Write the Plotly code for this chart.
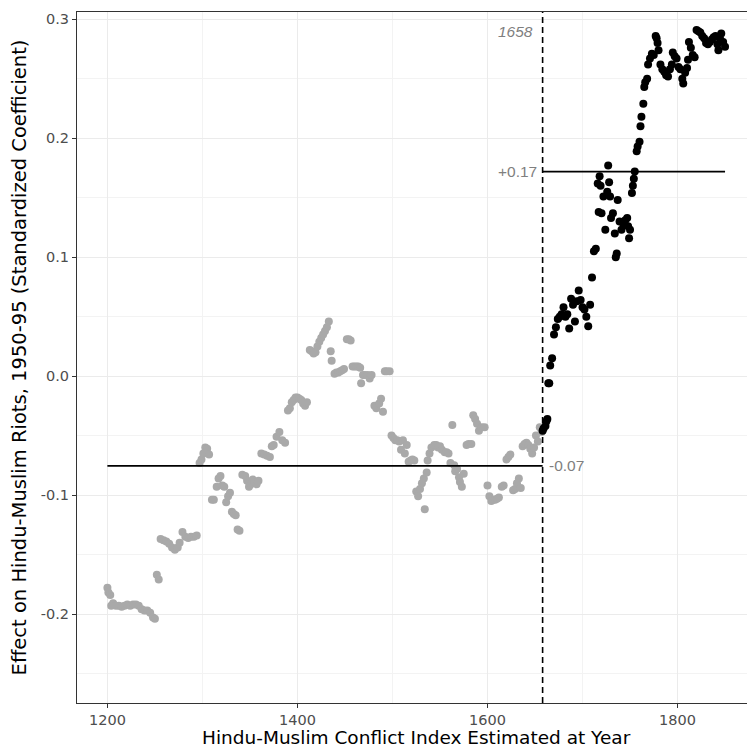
import plotly.graph_objects as go

# ---- data ----
years_before = [1200, 1201, 1203, 1204, 1206, 1209, 1212, 1215, 1218, 1221, 1224, 1227, 1230, 1233, 1236, 1239,
                1242, 1245, 1248, 1250, 1252, 1254, 1256, 1259, 1262, 1265, 1268, 1271, 1274, 1276, 1279, 1282,
                1285, 1288, 1291, 1294, 1297, 1299, 1301, 1303, 1305, 1307, 1310, 1312, 1315, 1317, 1319, 1321,
                1323, 1325, 1327, 1329, 1331, 1333, 1335, 1337, 1339, 1342, 1345, 1347, 1349, 1351, 1353, 1355,
                1357, 1359, 1362, 1365, 1368, 1371, 1373, 1375, 1378, 1381, 1384, 1387, 1390, 1392, 1394, 1396,
                1398, 1400, 1402, 1404, 1406, 1408, 1410, 1413, 1415, 1417, 1419, 1421, 1423, 1425, 1427, 1429,
                1431, 1433, 1435, 1436, 1439, 1441, 1443, 1445, 1447, 1449, 1452, 1454, 1456, 1458, 1460, 1462,
                1464, 1466, 1467, 1469, 1471, 1474, 1476, 1478, 1481, 1483, 1486, 1488, 1490, 1492, 1494, 1497,
                1499, 1501, 1503, 1505, 1507, 1509, 1511, 1513, 1515, 1517, 1519, 1521, 1523, 1525, 1527, 1529,
                1531, 1533, 1534, 1536, 1537, 1539, 1541, 1544, 1546, 1548, 1550, 1552, 1555, 1557, 1559, 1561,
                1563, 1565, 1566, 1568, 1570, 1571, 1573, 1575, 1578, 1580, 1583, 1585, 1587, 1589, 1591, 1594,
                1597, 1600, 1602, 1604, 1606, 1608, 1610, 1612, 1615, 1617, 1620, 1622, 1624, 1627, 1629, 1631,
                1633, 1635, 1637, 1639, 1641, 1643, 1645, 1647, 1649, 1651, 1653, 1655, 1657]
effect_before = [-0.178, -0.182, -0.184, -0.193, -0.191, -0.193, -0.193, -0.194, -0.193, -0.192, -0.193, -0.192,
                 -0.192, -0.193, -0.196, -0.197, -0.197, -0.199, -0.203, -0.204, -0.167, -0.171, -0.137, -0.138,
                 -0.139, -0.141, -0.144, -0.146, -0.144, -0.140, -0.131, -0.135, -0.136, -0.135, -0.135, -0.134,
                 -0.073, -0.070, -0.065, -0.060, -0.061, -0.066, -0.104, -0.104, -0.093, -0.086, -0.084, -0.092,
                 -0.093, -0.106, -0.101, -0.098, -0.114, -0.116, -0.117, -0.129, -0.130, -0.083, -0.084, -0.088,
                 -0.093, -0.091, -0.087, -0.089, -0.091, -0.088, -0.065, -0.066, -0.067, -0.068, -0.059, -0.058,
                 -0.051, -0.047, -0.054, -0.056, -0.029, -0.027, -0.022, -0.020, -0.018, -0.018, -0.019, -0.020,
                 -0.023, -0.025, -0.022, 0.022, 0.021, 0.019, 0.020, 0.025, 0.029, 0.032, 0.035, 0.038,
                 0.041, 0.046, 0.021, 0.013, 0.002, 0.003, 0.003, 0.004, 0.005, 0.006, 0.031, 0.031,
                 0.030, 0.008, 0.008, 0.008, 0.008, 0.007, -0.006, 0.001, 0.001, 0.001, -0.002, 0.001,
                 -0.025, -0.027, -0.023, -0.019, -0.030, 0.004, 0.004, 0.004, -0.050, -0.052, -0.054, -0.054,
                 -0.055, -0.062, -0.054, -0.065, -0.058, -0.072, -0.071, -0.070, -0.071, -0.097, -0.101, -0.095,
                 -0.090, -0.086, -0.112, -0.081, -0.071, -0.065, -0.060, -0.058, -0.058, -0.060, -0.059, -0.062,
                 -0.064, -0.064, -0.065, -0.073, -0.041, -0.075, -0.080, -0.078, -0.085, -0.089, -0.093, -0.082,
                 -0.058, -0.057, -0.057, -0.033, -0.036, -0.040, -0.046, -0.043, -0.043, -0.092, -0.101, -0.105,
                 -0.104, -0.104, -0.103, -0.102, -0.093, -0.092, -0.070, -0.068, -0.066, -0.096, -0.095, -0.090,
                 -0.086, -0.094, -0.059, -0.057, -0.056, -0.058, -0.061, -0.065, -0.060, -0.050, -0.055, -0.043,
                 -0.047]

years_after = [1658, 1659, 1661, 1662, 1663, 1664, 1665, 1666, 1668, 1670, 1672, 1674, 1676, 1678, 1680, 1682,
               1684, 1686, 1688, 1690, 1692, 1694, 1696, 1698, 1700, 1702, 1704, 1706, 1708, 1710, 1712, 1714,
               1716, 1717, 1718, 1719, 1720, 1722, 1724, 1726, 1727, 1728, 1729, 1730, 1732, 1734, 1735, 1736,
               1737, 1739, 1741, 1743, 1745, 1747, 1748, 1749, 1750, 1752, 1753, 1754, 1755, 1757, 1758, 1760,
               1761, 1762, 1764, 1765, 1766, 1768, 1769, 1771, 1773, 1775, 1777, 1778, 1779, 1780, 1782, 1784,
               1786, 1788, 1790, 1792, 1794, 1795, 1797, 1799, 1801, 1803, 1805, 1806, 1808, 1810, 1811, 1812,
               1814, 1816, 1818, 1820, 1822, 1824, 1826, 1828, 1830, 1832, 1834, 1836, 1838, 1840, 1842, 1843,
               1845, 1846, 1848, 1850]
effect_after = [-0.046, -0.044, -0.042, -0.038, -0.036, -0.006, -0.006, 0.009, 0.015, 0.035, 0.041, 0.048,
                0.050, 0.052, 0.058, 0.050, 0.052, 0.040, 0.065, 0.060, 0.046, 0.063, 0.072, 0.064,
                0.058, 0.056, 0.050, 0.042, 0.060, 0.083, 0.105, 0.107, 0.162, 0.138, 0.168, 0.160,
                0.137, 0.151, 0.123, 0.155, 0.177, 0.163, 0.151, 0.133, 0.137, 0.120, 0.100, 0.103,
                0.148, 0.130, 0.123, 0.128, 0.131, 0.133, 0.126, 0.116, 0.123, 0.154, 0.160, 0.166,
                0.172, 0.189, 0.193, 0.197, 0.210, 0.218, 0.229, 0.243, 0.247, 0.250, 0.262, 0.267,
                0.271, 0.270, 0.286, 0.284, 0.280, 0.274, 0.262, 0.258, 0.256, 0.253, 0.252, 0.258,
                0.262, 0.272, 0.269, 0.267, 0.260, 0.258, 0.250, 0.246, 0.255, 0.259, 0.266, 0.281,
                0.276, 0.270, 0.268, 0.291, 0.290, 0.289, 0.286, 0.284, 0.280, 0.279, 0.281, 0.283,
                0.285, 0.286, 0.279, 0.274, 0.283, 0.288, 0.281, 0.277]

cutoff_year = 1658
mean_before = -0.0755
mean_after = 0.172
mean_before_label = "-0.07"
mean_after_label = "+0.17"
start_year = 1200
end_year = 1850

x_ticks = [1200, 1400, 1600, 1800]
x_minor = [1300, 1500, 1700]
y_ticks = [-0.2, -0.1, 0.0, 0.1, 0.2, 0.3]
y_tick_labels = ["-0.2", "-0.1", "0.0", "0.1", "0.2", "0.3"]
y_minor = [-0.25, -0.15, -0.05, 0.05, 0.15, 0.25]

x_title = "Hindu-Muslim Conflict Index Estimated at Year"
y_title = "Effect on Hindu-Muslim Riots, 1950-95 (Standardized Coefficient)"

fig = go.Figure()

fig.add_trace(go.Scatter(x=years_before, y=effect_before, mode="markers",
                         marker=dict(color="#A9A9A9", size=8, line=dict(width=0)),
                         showlegend=False, hoverinfo="skip"))
fig.add_trace(go.Scatter(x=years_after, y=effect_after, mode="markers",
                         marker=dict(color="#000000", size=8, line=dict(width=0)),
                         showlegend=False, hoverinfo="skip"))

# mean lines
fig.add_trace(go.Scatter(x=[start_year, cutoff_year], y=[mean_before, mean_before], mode="lines",
                         line=dict(color="black", width=1.8), showlegend=False, hoverinfo="skip"))
fig.add_trace(go.Scatter(x=[cutoff_year, end_year], y=[mean_after, mean_after], mode="lines",
                         line=dict(color="black", width=1.8), showlegend=False, hoverinfo="skip"))

# cutoff dashed line
fig.add_shape(type="line", xref="x", yref="paper", x0=cutoff_year, x1=cutoff_year, y0=0, y1=1,
              line=dict(color="black", width=1.6, dash="6px,4px"), layer="above")

ann_font = dict(family="Liberation Sans, Arial, sans-serif", size=15.5, color="#7F7F7F")
fig.add_annotation(x=cutoff_year, y=0.2895, xref="x", yref="y", text="<i>%d</i>" % cutoff_year,
                   showarrow=False, xanchor="right", yanchor="middle", xshift=-8, font=ann_font)
fig.add_annotation(x=cutoff_year, y=mean_after, xref="x", yref="y", text=mean_after_label,
                   showarrow=False, xanchor="right", yanchor="middle", xshift=-4, font=ann_font)
fig.add_annotation(x=cutoff_year, y=mean_before, xref="x", yref="y", text=mean_before_label,
                   showarrow=False, xanchor="left", yanchor="middle", xshift=4, font=ann_font)

# x axis title (centred like the original panel, which extends past the right edge)
fig.add_annotation(x=(416.5 - 77) / 670, y=-45.6 / 691, xref="paper", yref="paper", text=x_title,
                   showarrow=False, xanchor="center", yanchor="bottom", borderpad=0,
                   font=dict(family="DejaVu Sans", size=18.5, color="black"))

axis_common = dict(
    showgrid=True, gridcolor="#EBEBEB", gridwidth=1,
    zeroline=False, showline=True, linecolor="#333333", linewidth=1,
    ticks="outside", ticklen=4, tickwidth=1, tickcolor="#333333",
    tickfont=dict(family="DejaVu Sans", size=14.5, color="#4D4D4D"),
)

fig.update_xaxes(
    range=[1168.0, 1873.1], tickvals=x_ticks, ticktext=[str(v) for v in x_ticks], mirror=True,
    minor=dict(tickvals=x_minor, showgrid=True, gridcolor="#F3F3F3", gridwidth=1, ticks=""),
    **axis_common)
fig.update_yaxes(
    range=[-0.27483, 0.30614], tickvals=y_ticks, ticktext=y_tick_labels, mirror=False,
    minor=dict(tickvals=y_minor, showgrid=True, gridcolor="#F3F3F3", gridwidth=1, ticks=""),
    title=dict(text=y_title, font=dict(family="DejaVu Sans", size=19.5, color="black"), standoff=8),
    **axis_common)

fig.update_layout(
    width=747, height=749,
    margin=dict(l=77, r=0, t=12, b=46, autoexpand=False),
    paper_bgcolor="white", plot_bgcolor="white",
    font=dict(family="DejaVu Sans"),
)

fig.write_html("out.html")
